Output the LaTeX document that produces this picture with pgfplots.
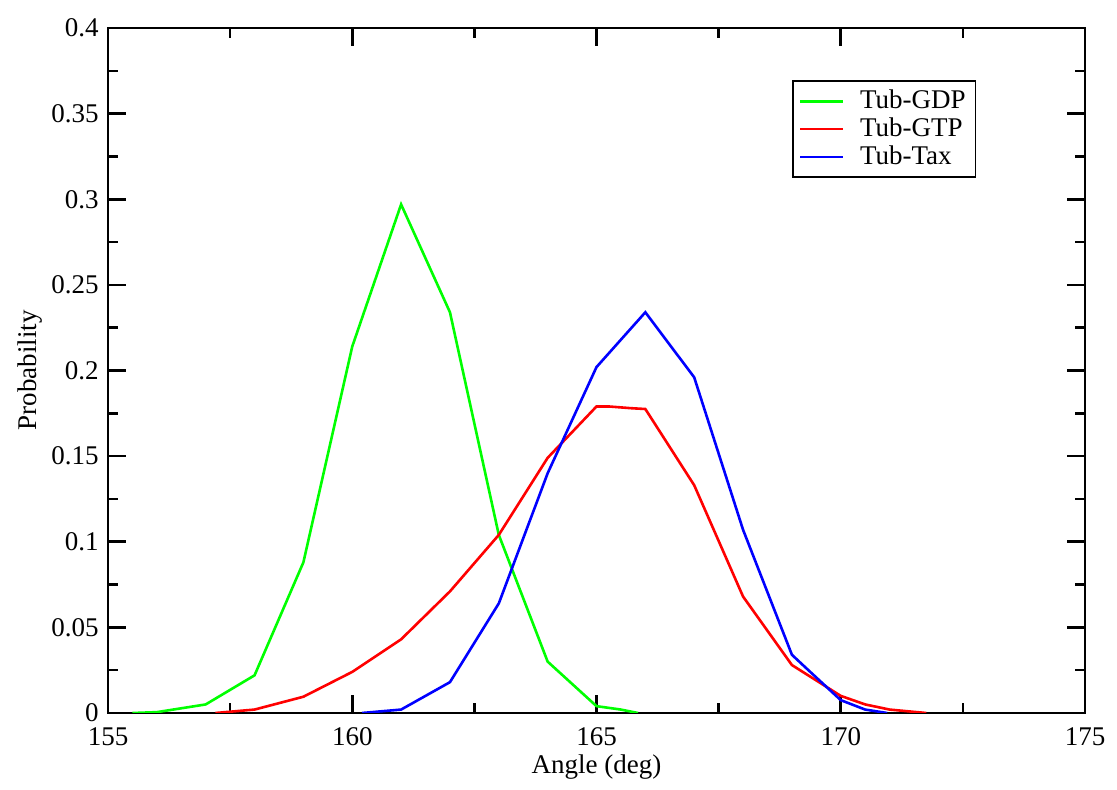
\documentclass[border=0pt]{standalone}
\usepackage{fontspec}
\setmainfont{Liberation Serif}
\usepackage{pgfplots}
\pgfplotsset{compat=1.18}
\definecolor{cgreen}{RGB}{0,255,0}
\definecolor{cred}{RGB}{255,0,0}
\definecolor{cblue}{RGB}{0,0,255}
\begin{document}
\fontsize{13.5}{16}\selectfont
\begin{tikzpicture}
\path[use as bounding box] (-54pt,-38.5pt) rectangle (504.5pt,356.5pt);
\begin{axis}[
  at={(0,0)}, anchor=south west,
  scale only axis, width=488.5pt, height=342.5pt,
  xmin=155, xmax=175, ymin=0, ymax=0.4,
  xtick={155,160,...,175},
  ytick={0,0.05,0.1,0.15,0.2,0.25,0.3,0.35,0.4},
  yticklabels={0,0.05,0.1,0.15,0.2,0.25,0.3,0.35,0.4},
  minor x tick num=1, minor y tick num=1,
  tick align=inside, xtick pos=both, ytick pos=both,
  xticklabel pos=bottom, yticklabel pos=left,
  major tick length=9pt, minor tick length=5pt,
  every tick/.style={black, line width=1.3pt},
  axis line style={line width=1.35pt},
  /pgf/number format/assume math mode=true,
  ticklabel style={font=\fontsize{13.5}{16}\selectfont},
  xticklabel style={yshift=-2.5pt},
  yticklabel style={xshift=0pt},
  xlabel={Angle (deg)}, ylabel={Probability},
  xlabel style={at={(axis description cs:0.5,-0.079)}, anchor=center, font=\fontsize{13.5}{16}\selectfont},
  ylabel style={at={(axis description cs:-0.080,0.5)}, anchor=center, font=\fontsize{13.5}{16}\selectfont},
  legend style={at={(axis description cs:0.700,0.924)}, anchor=north west,
    draw=black, line width=0.8pt, inner xsep=3pt, inner ysep=2.5pt,
    font=\fontsize{13.5}{16}\selectfont, row sep=-1.5pt,
    nodes={inner sep=2pt}},
  legend cell align=left,
  legend image code/.code={\draw[#1, line width=1.3pt] (0pt,0pt) -- (21.5pt,0pt);
    \path[draw=none] (0pt,0pt) -- (28pt,0pt);},
]
\addplot[cgreen, line width=1.3pt] coordinates {
(155.5,0) (156,0.0005) (157,0.005) (158,0.022) (159,0.088) (160,0.214)
(161,0.297) (162,0.234) (163,0.104) (164,0.030) (165,0.004) (165.5,0.002) (165.85,0)
};
\addlegendentry{Tub-GDP}
\addplot[cred, line width=1.3pt] coordinates {
(157.2,0) (158,0.002) (159,0.0095) (160,0.024) (161,0.043) (162,0.071)
(163,0.104) (164,0.149) (165,0.179) (165.25,0.179) (165.7,0.178) (166,0.1775)
(167,0.133) (168,0.068) (169,0.028) (170,0.010) (170.5,0.005) (171,0.002) (171.75,0)
};
\addlegendentry{Tub-GTP}
\addplot[cblue, line width=1.3pt] coordinates {
(160.2,0) (161,0.002) (162,0.018) (163,0.064) (164,0.140) (165,0.202)
(166,0.234) (167,0.196) (168,0.107) (169,0.034) (169.3,0.026) (170,0.0075)
(170.5,0.002) (170.95,0)
};
\addlegendentry{Tub-Tax}
\end{axis}
\end{tikzpicture}
\end{document}
